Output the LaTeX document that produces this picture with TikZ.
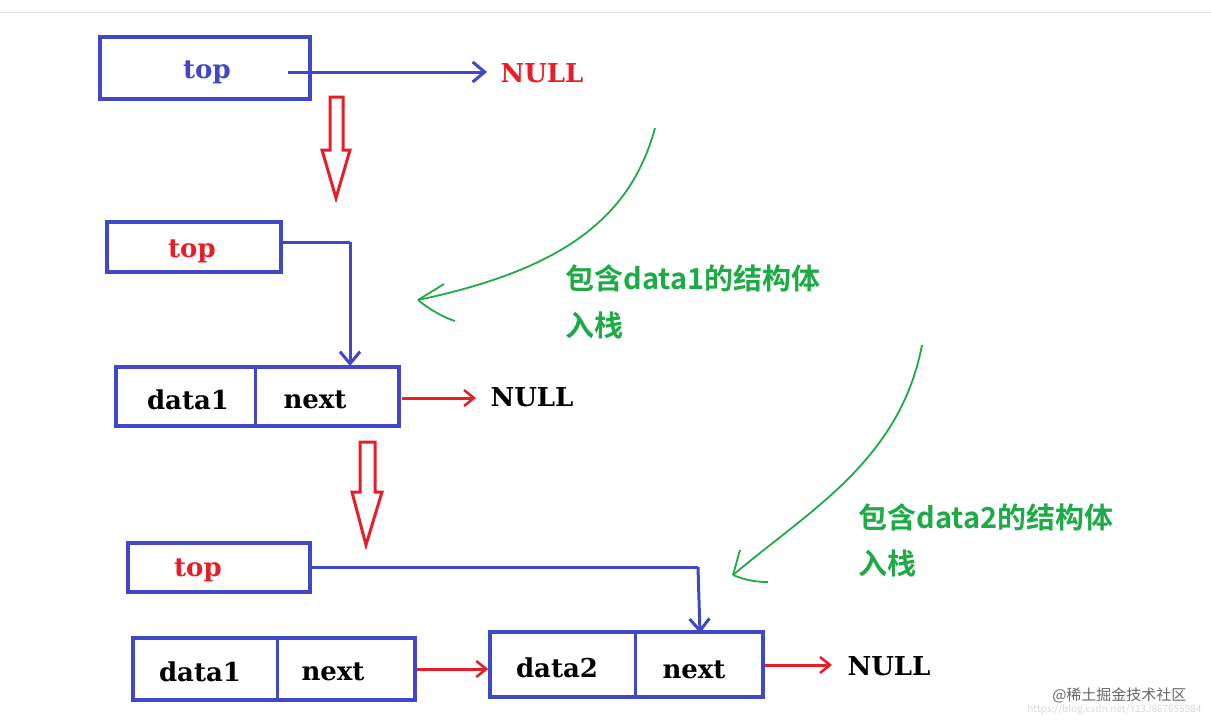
\documentclass[tikz,border=0pt]{standalone}
\usepackage{fontspec}
\setmainfont{DejaVu Serif}
\newfontfamily\cjk{Noto Sans CJK SC}[BoldFont={* Bold}]
\newfontfamily\wm{Noto Sans CJK SC}
\usetikzlibrary{arrows.meta}
\definecolor{bb}{RGB}{65,72,200}
\definecolor{rr}{RGB}{230,30,40}
\definecolor{gg}{RGB}{30,170,70}
\begin{document}
\begin{tikzpicture}[x=1pt,y=-1pt,
 box/.style={draw=bb,line width=3.5pt},
 lbl/.style={font=\fontsize{26}{28}\selectfont\bfseries},
 gtxt/.style={font=\cjk\fontsize{29}{31}\selectfont\bfseries,text=gg,anchor=west},
 hollow/.style={draw=rr,line width=3pt,line join=miter},
 bl/.style={draw=bb,line width=3pt,-{Straight Barb[length=12pt,width=20pt,line width=3pt]}},
 rl/.style={draw=rr,line width=3pt,-{Straight Barb[length=10pt,width=16pt,line width=2.5pt]}},
 gl/.style={draw=gg,line width=1.8pt}]
\useasboundingbox (0,0) rectangle (1211,728);
\draw[gray!20] (0,12) -- (1211,12);
% box 1
\node[box,minimum width=210pt,minimum height=62pt] (b1) at (205,68) {};
\node[lbl,text=bb] (t1) at (207,72) {top};
\node[lbl,text=rr] (n1) at (542,73) {NULL};
\coordinate (s1) at (288,72);
\draw[bl] (s1) -- (487,72);
% hollow arrow 1
\draw[hollow] (330,97) -- (343,97) -- (343,150) -- (350,150) -- (336,198) -- (322,150) -- (330,150) -- cycle;
% box 2
\node[box,minimum width=174pt,minimum height=50pt] (b2) at (194,247) {};
\node[lbl,text=rr] (t2) at (192,251) {top};
% box 3
\node[box,minimum width=283pt,minimum height=59pt] (b3) at (257.5,396.5) {};
\draw[bb,line width=3pt] (255,367) -- (255,426);
\node[lbl] (d1) at (188,400) {data1};
\node[lbl] (x1) at (315,400) {next};
\draw[bb,line width=3pt] (b2.east |- 0,242) -- (350,242) coordinate (c2);
\draw[bl] (c2) -- (350,366);
\node[lbl] (n2) at (532,397) {NULL};
\draw[rl] (402,398) -- (476,398);
% hollow arrow 2
\draw[hollow] (360,442) -- (375,442) -- (375,492) -- (382,492) -- (366,545) -- (352,492) -- (360,492) -- cycle;
% box 4
\node[box,minimum width=182pt,minimum height=49pt] (b4) at (219,567.5) {};
\node[lbl,text=rr] (t4) at (198,570) {top};
% box 5
\node[box,minimum width=282pt,minimum height=62pt] (b5) at (274,669) {};
\draw[bb,line width=3pt] (277,638) -- (277,700);
\node[lbl] (d2) at (200,672) {data1};
\node[lbl] (x2) at (333,672) {next};
% box 6
\node[box,minimum width=273pt,minimum height=65pt] (b6) at (626.5,664.5) {};
\draw[bb,line width=3pt] (635,632) -- (635,697);
\node[lbl] (d3) at (557,668) {data2};
\node[lbl] (x3) at (694,670) {next};
\draw[bb,line width=3pt] (b4.east |- 0,567) -- (698,567) coordinate (c4);
\draw[bl] (c4) -- (700,633);
\draw[rl] (b5.east |- 0,669) -- (b6.west |- 0,669);
\node[lbl] (n3) at (889,666) {NULL};
\draw[rl] (b6.east |- 0,665) -- (832,665);
% green notes
\node[gtxt] (g1) at (562,278) {包含data1的结构体};
\node[gtxt] (g1b) at (562,325) {入栈};
\draw[gl] (655,128) .. controls (630,220) and (560,270) .. (418,300) coordinate (h1);
\draw[gl] (h1) -- (444,284);
\draw[gl] (h1) .. controls (430,310) and (445,318) .. (455,321);
\node[gtxt] (g2) at (855,517) {包含data2的结构体};
\node[gtxt] (g2b) at (855,563) {入栈};
\draw[gl] (922,345) .. controls (900,460) and (810,510) .. (733,575) coordinate (h2);
\draw[gl] (h2) -- (740,550);
\draw[gl] (h2) .. controls (745,580) and (755,582) .. (768,582);
% watermark
\node[font=\wm\fontsize{10}{12}\selectfont,text=gray!30,anchor=east] (u) at (1205,710) {https://blog.csdn.net/Y13J867655984};
\node[font=\wm\fontsize{15}{17}\selectfont,text=gray!80!black,anchor=east] (w) at (1190,695) {@稀土掘金技术社区};
\end{tikzpicture}
\end{document}
